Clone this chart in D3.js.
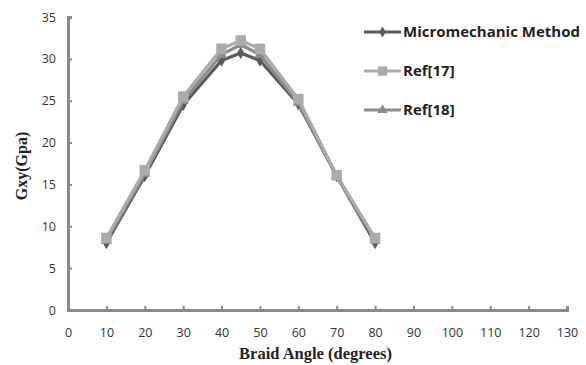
<!DOCTYPE html>
<html>
<head>
<meta charset="utf-8">
<script src="https://cdn.jsdelivr.net/npm/d3@7"></script>
<style>
  body { margin: 0; background: #fff; }
  .tick text { font-family: "Open Sans", "DejaVu Sans", sans-serif; font-size: 12.5px; fill: #333; }
</style>
</head>
<body>
<div class="chart"></div>
<script>
// braid angle (degrees)
var angles = [10, 20, 30, 40, 45, 50, 60, 70, 80];
var micromechanic = [8.0, 16.0, 24.5, 29.8, 30.7, 29.8, 24.6, 16.0, 8.0];
var ref17 = [8.6, 16.7, 25.5, 31.2, 32.2, 31.2, 25.2, 16.1, 8.6];
var ref18 = [8.3, 16.3, 25.0, 30.5, 31.7, 30.5, 24.8, 16.0, 8.3];
var seriesNames = ["Micromechanic Method", "Ref[17]", "Ref[18]"];
var xTicks = d3.range(0, 131, 10);
var yTicks = d3.range(0, 36, 5);

var margin = {top: 17, right: 19, bottom: 55, left: 68};
var width = 586 - margin.left - margin.right;
var height = 365 - margin.top - margin.bottom;

var xScale = d3.scaleLinear().domain([0, 130]).range([0, width]);
var yScale = d3.scaleLinear().domain([0, 35]).range([height, 0]);

var svg = d3.select(".chart").append("svg")
  .attr("width", 586)
  .attr("height", 365);
var g = svg.append("g")
  .attr("transform", "translate(" + margin.left + "," + margin.top + ")");

// axes
var xAxis = g.append("g")
  .attr("transform", "translate(0," + height + ")")
  .call(d3.axisBottom(xScale).tickValues(xTicks).tickSize(-4).tickPadding(18));
var yAxis = g.append("g")
  .call(d3.axisLeft(yScale).tickValues(yTicks).tickSize(-4).tickPadding(12));
[xAxis, yAxis].forEach(function(a) {
  a.select(".domain").attr("stroke", "#8a8a8a").attr("stroke-width", 3);
  a.selectAll(".tick line").attr("stroke", "#8a8a8a").attr("stroke-width", 2);
});

var series = [
  {name: seriesNames[0], values: micromechanic, color: "#5a5a5a", shape: d3.symbolDiamond, size: 45},
  {name: seriesNames[2], values: ref18, color: "#8c8c8c", shape: d3.symbolTriangle, size: 55},
  {name: seriesNames[1], values: ref17, color: "#ababab", shape: d3.symbolSquare, size: 110}
];

var line = d3.line()
  .x(function(d, i) { return xScale(angles[i]); })
  .y(function(d) { return yScale(d); });

series.forEach(function(s) {
  g.append("path")
    .datum(s.values)
    .attr("fill", "none")
    .attr("stroke", s.color)
    .attr("stroke-width", 3.2)
    .attr("d", line);
  g.selectAll(null)
    .data(s.values)
    .enter().append("path")
    .attr("transform", function(d, i) { return "translate(" + xScale(angles[i]) + "," + yScale(d) + ")"; })
    .attr("d", d3.symbol().type(s.shape).size(s.size))
    .attr("fill", s.color);
});

// legend
var legendOrder = [series[0], series[2], series[1]];
var legend = svg.append("g").attr("transform", "translate(364,32)");
legendOrder.forEach(function(s, i) {
  var row = legend.append("g").attr("transform", "translate(0," + (i * 39) + ")");
  row.append("line").attr("x1", 0).attr("x2", 37).attr("stroke", s.color).attr("stroke-width", 3);
  row.append("path").attr("transform", "translate(18.5,0)")
    .attr("d", d3.symbol().type(s.shape).size(s.size * 0.8)).attr("fill", s.color);
  row.append("text").attr("x", 39).attr("dy", "0.35em")
    .style("font-family", "'Open Sans', 'DejaVu Sans', sans-serif")
    .style("font-weight", "bold").style("font-size", "15px").style("fill", "#222")
    .text(s.name);
});

// axis titles
svg.append("text")
  .attr("x", margin.left + width / 2 - 2).attr("y", 359)
  .attr("text-anchor", "middle")
  .style("font-family", "'Liberation Serif', 'DejaVu Serif', serif")
  .style("font-weight", "bold").style("font-size", "16.5px").style("fill", "#222")
  .text("Braid Angle (degrees)");
svg.append("text")
  .attr("transform", "translate(27,166) rotate(-90)")
  .attr("text-anchor", "middle")
  .style("font-family", "'Liberation Serif', 'DejaVu Serif', serif")
  .style("font-weight", "bold").style("font-size", "16px").style("fill", "#222")
  .text("Gxy(Gpa)");
</script>
</body>
</html>
